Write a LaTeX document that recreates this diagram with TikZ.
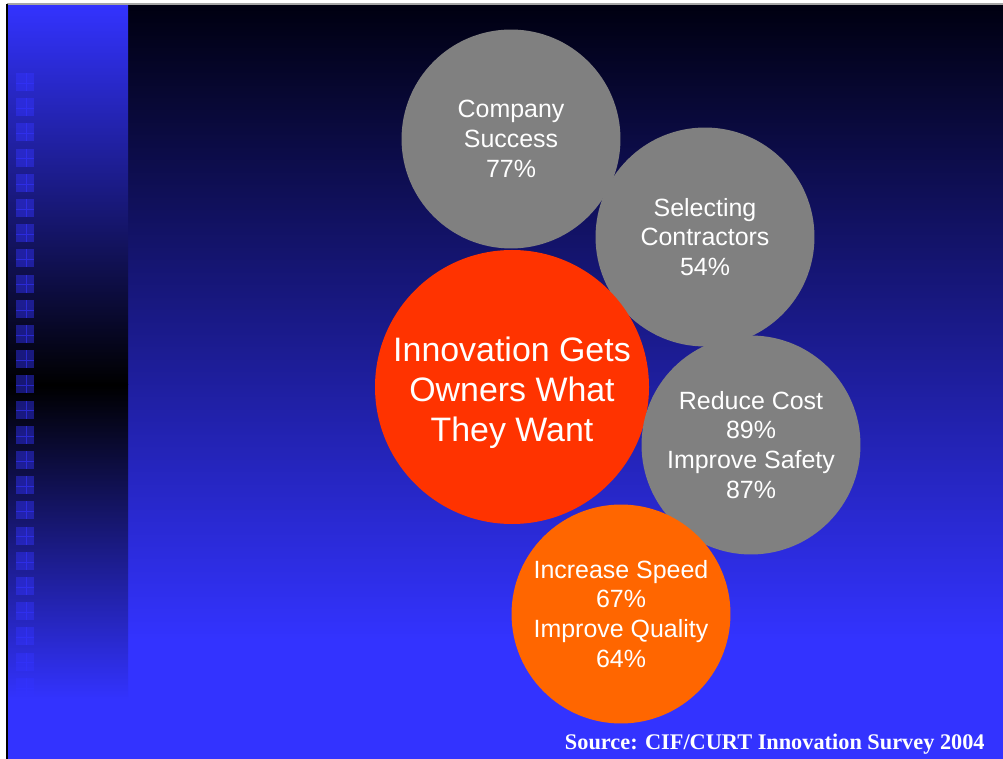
\documentclass[tikz,border=0pt]{standalone}
\usepackage{fontspec}
\setmainfont{Liberation Sans}
\newfontfamily\sourcefont{Liberation Serif}
\usetikzlibrary{shapes,calc,positioning}
\definecolor{slideblue}{RGB}{51,51,255}
\definecolor{slidedark}{RGB}{0,0,16}
\definecolor{bubblegray}{RGB}{128,128,128}
\definecolor{bubblered}{RGB}{255,51,0}
\definecolor{bubbleorange}{RGB}{255,102,0}
\tikzset{
    bubble/.style ={circle, inner sep=0pt, minimum size=4.38cm, align=center, text=white,
        font=\fontsize{14.2}{17}\selectfont},
    grey/.style ={bubble, fill=bubblegray},
    orange/.style ={bubble, fill=bubbleorange},
    bigtext/.style ={inner sep=0pt, align=center, text=white, font=\fontsize{19.3}{22.8}\selectfont},
    tile/.style ={fill=slideblue, fill opacity=0.45}
}

\begin{document}
\begin{tikzpicture}[x=0.02cm,y=-0.02cm]
\useasboundingbox (0,0) rectangle (1003,759);
\fill[white] (0,0) rectangle (1003,759);
% background
\shade[top color=slidedark, bottom color=slideblue] (128,4) rectangle (1003,640);
\fill[slideblue] (128,640) rectangle (1003,759);
\shade[top color=slideblue, bottom color=black] (7,4) rectangle (128,385);
\shade[top color=black, bottom color=slideblue] (7,385) rectangle (128,700);
\fill[slideblue] (7,700) rectangle (128,759);
% tiles on the left strip
\foreach \i in {0,...,24}{
  \fill[tile] (16,73+25.2*\i) rectangle (34,91+25.2*\i);
  \draw[slideblue, opacity=0.6, line width=0.3pt] (26,73+25.2*\i) -- (26,91+25.2*\i) (16,83+25.2*\i) -- (34,83+25.2*\i);
}
\draw[gray!70, line width=0.6pt] (7,4) -- (1003,4);
\draw[black, line width=0.8pt] (7,4) -- (7,759);
% bubbles
\node[grey](1) at (511,139){Company\\Success\\77\%};
\node[grey](2) at (705,237){Selecting\\Contractors\\54\%};
\fill[bubblered] (512,387) circle (137);
\node[bigtext](3) at (512,393){Innovation Gets\\Owners What\\They Want};
\node[grey](4) at (751,445){Reduce Cost\\89\%\\Improve Safety\\87\%};
\node[orange](5) at (621,614){Increase Speed\\67\%\\Improve Quality\\64\%};
\node[anchor=east, text=white, inner sep=0pt, font=\sourcefont\bfseries\fontsize{12.7}{15}\selectfont](6) at (985,744){Source: CIF/CURT Innovation Survey 2004};
\end{tikzpicture}
\end{document}
